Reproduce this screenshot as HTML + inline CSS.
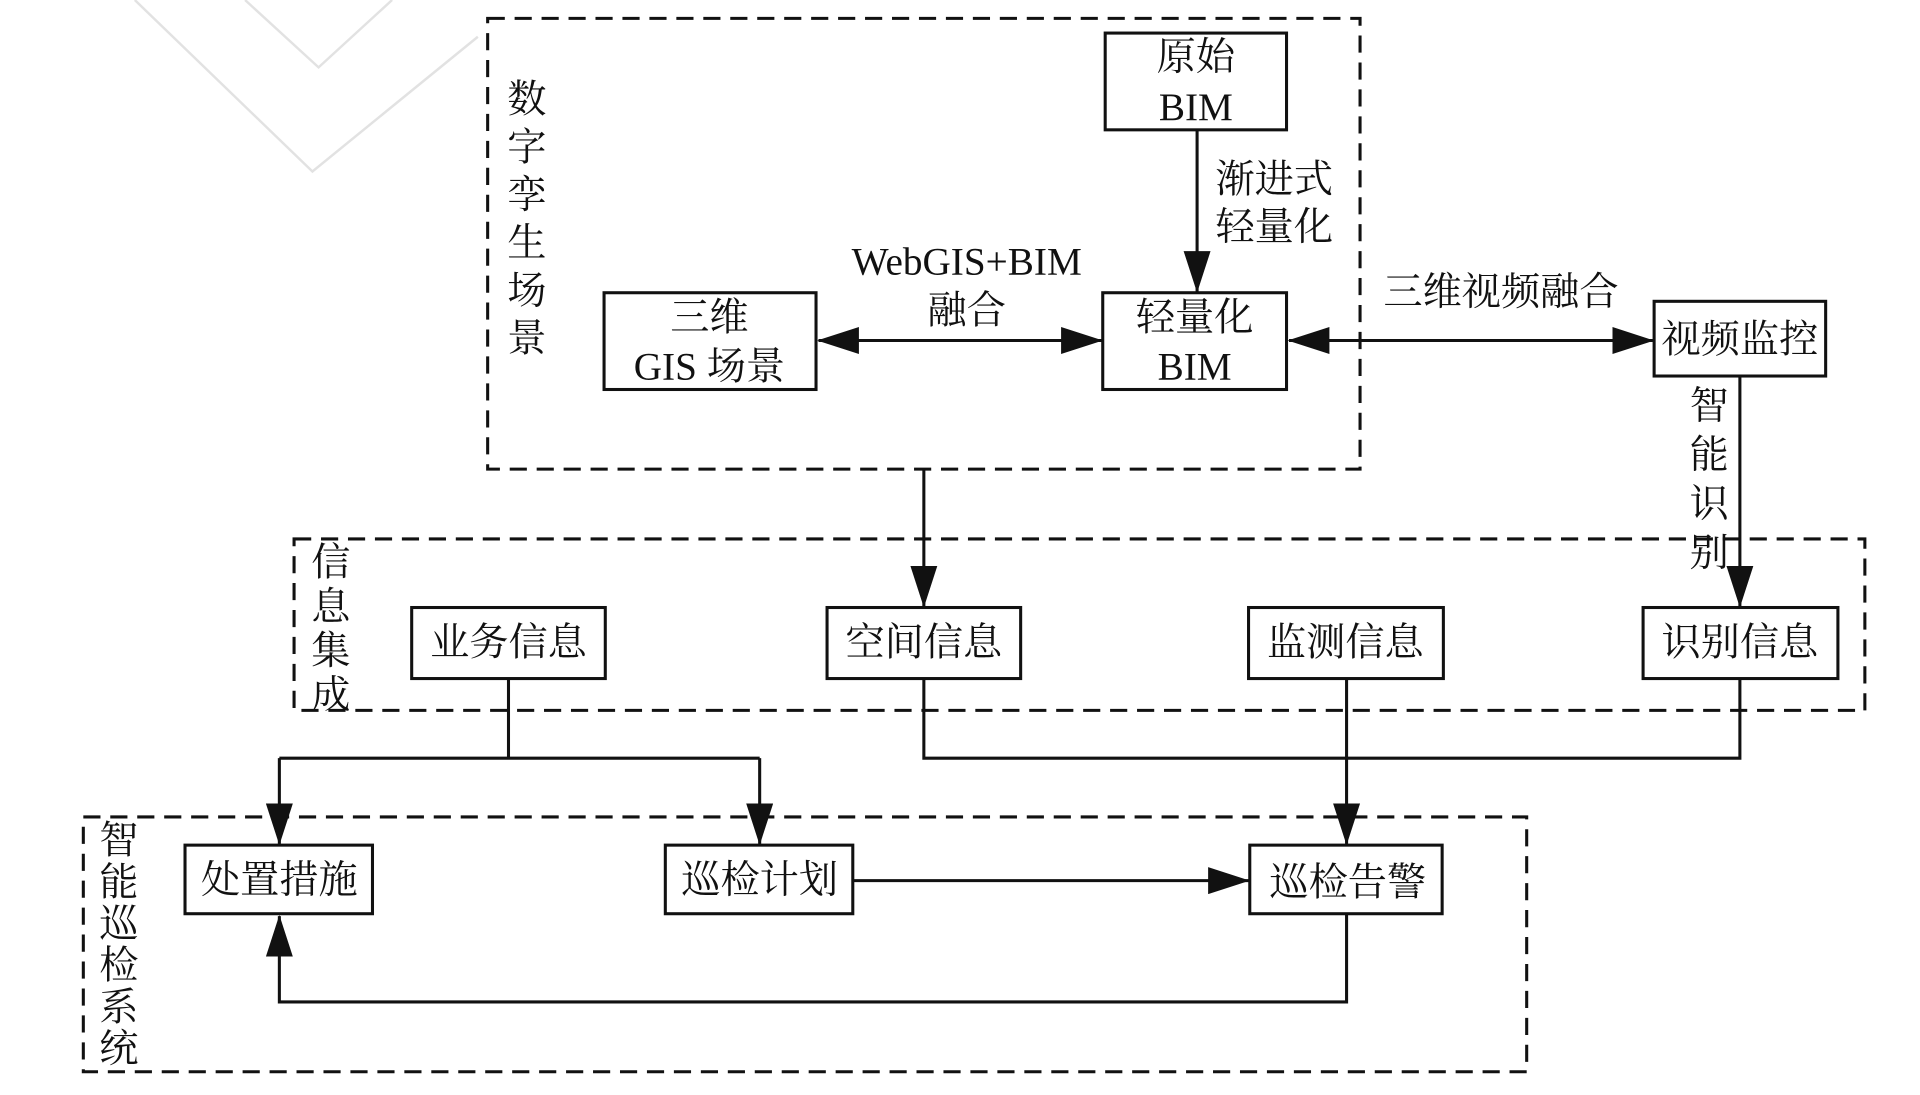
<!DOCTYPE html>
<html><head><meta charset="utf-8"><style>
html,body{margin:0;padding:0;background:#fff;width:1920px;height:1095px;overflow:hidden}
svg{display:block}
text{font-family:"Liberation Serif","Noto Serif CJK SC",serif;font-size:32px;fill:#111;text-anchor:middle}
</style></head><body>
<svg width="1920" height="1095" viewBox="0 0 1567 894" preserveAspectRatio="none" xmlns="http://www.w3.org/2000/svg">
<defs>
<marker id="b" markerWidth="34" markerHeight="22" refX="33" refY="11" orient="auto-start-reverse" markerUnits="userSpaceOnUse"><path d="M0,0 L34,11 L0,22 z" fill="#111"/></marker></defs>
<g stroke="#e2e2e2" stroke-width="2" fill="none">
<path d="M110,0 L255,140 L390,30"/><path d="M200,0 L260,55 L320,0"/></g>
<g fill="none" stroke="#111" stroke-width="2.5" stroke-dasharray="14,8">
<rect x="398" y="15" width="712" height="368"/>
<rect x="240" y="440" width="1282" height="140"/>
<rect x="68" y="667" width="1178" height="208"/>
</g>
<g fill="#fff" stroke="#111" stroke-width="2.5">
<rect x="902" y="27" width="148" height="79"/>
<rect x="493" y="239" width="173" height="79"/>
<rect x="900" y="239" width="150" height="79"/>
<rect x="1350" y="246" width="140" height="61"/>
<rect x="336" y="496" width="158" height="58"/>
<rect x="675" y="496" width="158" height="58"/>
<rect x="1019" y="496" width="159" height="58"/>
<rect x="1341" y="496" width="159" height="58"/>
<rect x="151" y="690" width="153" height="56"/>
<rect x="543" y="690" width="153" height="56"/>
<rect x="1020" y="690" width="157" height="56"/>
</g>
<g stroke="#111" stroke-width="2.5" fill="none">
<line x1="977" y1="106" x2="977" y2="238" marker-end="url(#b)"/>
<line x1="668" y1="278" x2="899" y2="278" marker-start="url(#b)" marker-end="url(#b)"/>
<line x1="1052" y1="278" x2="1349" y2="278" marker-start="url(#b)" marker-end="url(#b)"/>
<line x1="1420" y1="307" x2="1420" y2="495" marker-end="url(#b)"/>
<line x1="754" y1="383" x2="754" y2="495" marker-end="url(#b)"/>
<polyline points="415,554 415,619"/>
<polyline points="228,619 620,619"/>
<line x1="228" y1="619" x2="228" y2="689" marker-end="url(#b)"/>
<line x1="620" y1="619" x2="620" y2="689" marker-end="url(#b)"/>
<polyline points="754,554 754,619 1420,619 1420,554"/>
<line x1="1099" y1="554" x2="1099" y2="689" marker-end="url(#b)"/>
<line x1="696" y1="719" x2="1019" y2="719" marker-end="url(#b)"/>
<polyline points="1099,746 1099,818 228,818 228,748" marker-end="url(#b)"/>
</g>
<text x="976" y="57">原始</text><text x="976" y="98">BIM</text>
<text x="1040" y="157">渐进式</text><text x="1040" y="196">轻量化</text>
<text x="579" y="270">三维</text><text x="579" y="310">GIS 场景</text>
<text x="975" y="270">轻量化</text><text x="975" y="310">BIM</text>
<text x="789" y="224">WebGIS+BIM</text><text x="789" y="264">融合</text>
<text x="1225" y="249">三维视频融合</text>
<text x="1420" y="288">视频监控</text>
<g>
<text x="430" y="92">数</text><text x="430" y="131">字</text><text x="430" y="170">孪</text><text x="430" y="209">生</text><text x="430" y="248">场</text><text x="430" y="287">景</text>
<text x="1395" y="342">智</text><text x="1395" y="382">能</text><text x="1395" y="422">识</text><text x="1395" y="462">别</text>
<text x="270" y="470">信</text><text x="270" y="506">息</text><text x="270" y="542">集</text><text x="270" y="578">成</text>
<text x="97" y="697">智</text><text x="97" y="731">能</text><text x="97" y="765">巡</text><text x="97" y="799">检</text><text x="97" y="833">系</text><text x="97" y="867">统</text>
</g>
<text x="415" y="535">业务信息</text>
<text x="754" y="535">空间信息</text>
<text x="1098" y="535">监测信息</text>
<text x="1420" y="535">识别信息</text>
<text x="228" y="729">处置措施</text>
<text x="620" y="729">巡检计划</text>
<text x="1100" y="731">巡检告警</text>
</svg>
</body></html>
